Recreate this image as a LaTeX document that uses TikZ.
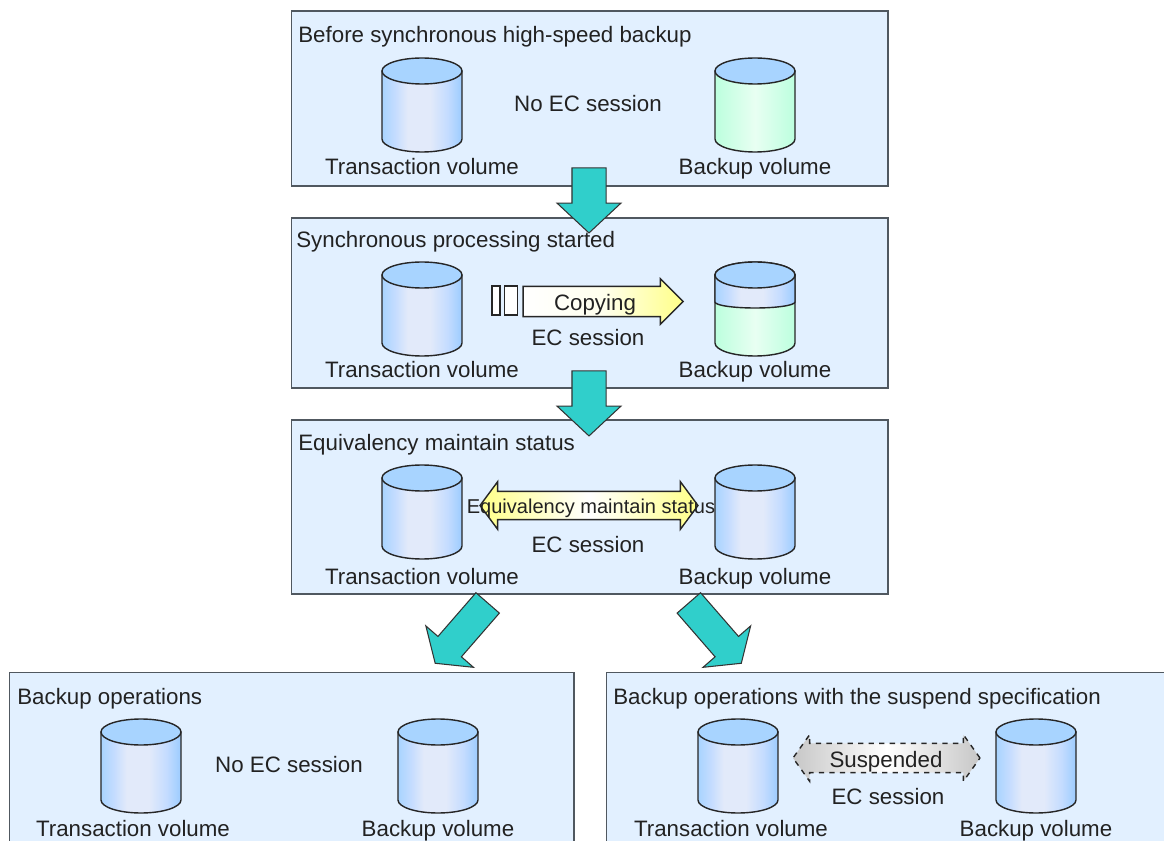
\documentclass[tikz,border=0pt]{standalone}
\usepackage{fontspec}
\setmainfont{Liberation Sans}
\usetikzlibrary{shapes.arrows}
\definecolor{panelblue}{HTML}{E2F0FF}
\definecolor{panelline}{HTML}{505860}
\definecolor{teal}{HTML}{30CFCB}
\definecolor{inktext}{HTML}{222222}
\definecolor{volcap}{HTML}{A8D4FF}
\definecolor{volside}{HTML}{C4DCFF}
\definecolor{volmid}{HTML}{E2EAFA}
\definecolor{volright}{HTML}{9CCCFF}
\definecolor{greenside}{HTML}{BCFFDE}
\definecolor{greenmid}{HTML}{E8FFF2}
\definecolor{copyyellow}{HTML}{FFFF88}
\pgfdeclarehorizontalshading{volblue}{100bp}{color(0bp)=(volcap); color(25bp)=(volcap); color(33bp)=(volside); color(41bp)=(volmid); color(55bp)=(volmid); color(66bp)=(volside); color(75bp)=(volright); color(100bp)=(volright)}
\pgfdeclarehorizontalshading{volgreen}{100bp}{color(0bp)=(greenside); color(25bp)=(greenside); color(50bp)=(greenmid); color(75bp)=(greenside); color(100bp)=(greenside)}
\tikzset{
  panel/.style={draw=panelline,line width=0.9pt,fill=panelblue,anchor=north west,inner sep=0pt},
  lab/.style={text=inktext,font=\fontsize{12.7}{14}\selectfont,inner sep=0pt,text height=9.1pt,text depth=0pt},
  smalllab/.style={text=inktext,font=\fontsize{11.4}{13}\selectfont,inner sep=0pt,text height=8.2pt,text depth=0pt},
  title/.style={lab,anchor=west},
  volline/.style={draw=black!85,line width=0.8pt},
  bigarrow/.style={shape=single arrow,draw=black!80,line width=0.6pt,fill=teal,inner xsep=0pt,inner ysep=0.33cm,
    minimum width=1.24cm,minimum height=1.3cm,single arrow head extend=0.3cm,single arrow tip angle=94},
  slantarrow/.style={bigarrow,inner ysep=0.3cm,minimum height=1.6cm,single arrow head extend=0.32cm,single arrow tip angle=110},
  copyarrow/.style={shape=single arrow,draw=black!85,line width=0.8pt,inner xsep=0pt,inner ysep=0.29cm,
    minimum width=0.88cm,minimum height=3.2cm,single arrow head extend=0.15cm,single arrow tip angle=90,
    left color=white,right color=copyyellow,middle color=copyyellow!15!white},
  bothways/.style={shape=double arrow,draw=black!85,line width=0.8pt,inner xsep=0pt,inner ysep=0.27cm,
    minimum width=0.92cm,minimum height=4.36cm,double arrow head extend=0.19cm,double arrow tip angle=107,
    left color=copyyellow,right color=copyyellow,middle color=white},
  hold/.style={draw=black!85,line width=0.8pt,fill=white,inner sep=0pt,minimum height=0.58cm}
}
\newcommand{\volume}[3]{%
  \begin{scope}[shift={(#1,#2)}]
    \draw[volline,shading=#3] (-40,13) -- (-40,81) arc[start angle=180,end angle=360,x radius=0.8cm,y radius=0.26cm] -- (40,13) -- cycle;
    \draw[volline,fill=volcap] (0,13) ellipse[x radius=0.8cm,y radius=0.26cm];
  \end{scope}}
\begin{document}
\begin{tikzpicture}[x=0.02cm,y=-0.02cm]
\useasboundingbox (0,0) rectangle (1164,841);
\clip (0,0) rectangle (1164,841);
%% panels
\node[panel,minimum width=11.94cm,minimum height=3.5cm] (before) at (290.5,10.5) {};
\node[panel,minimum width=11.94cm,minimum height=3.4cm] (sync) at (290.5,217.5) {};
\node[panel,minimum width=11.94cm,minimum height=3.48cm] (equiv) at (290.5,419.5) {};
\node[panel,minimum width=11.3cm,minimum height=3.6cm] (backup) at (8.5,671.5) {};
\node[panel,minimum width=11.6cm,minimum height=3.6cm] (suspend) at (605.5,671.5) {};
%% first panel
\node[title] (beforetitle) at (298,35) {Before synchronous high-speed backup};
\volume{422}{58}{volblue}
\volume{755}{58}{volgreen}
\node[lab] (beforesession) at (588,104) {No EC session};
\node[lab] (beforetrans) at (422,167) {Transaction volume};
\node[lab] (beforeback) at (755,167) {Backup volume};
%% second panel
\node[title] (synctitle) at (296,240) {Synchronous processing started};
\volume{422}{262}{volblue}
\volume{755}{262}{volgreen}
\begin{scope}[shift={(755,262)}]
  \draw[volline,shading=volblue] (-40,13) -- (-40,40) arc[start angle=180,end angle=360,x radius=0.8cm,y radius=0.12cm] -- (40,13) -- cycle;
  \draw[volline,fill=volcap] (0,13) ellipse[x radius=0.8cm,y radius=0.26cm];
\end{scope}
\node[hold,minimum width=0.16cm] (holda) at (496,300.5) {};
\node[hold,minimum width=0.27cm] (holdb) at (511,300.5) {};
\node[copyarrow] (copying) at (595.5,301.5) {};
\node[lab] (copytext) at (595,303) {Copying};
\node[lab] (syncsession) at (588,338) {EC session};
\node[lab] (synctrans) at (422,370) {Transaction volume};
\node[lab] (syncback) at (755,370) {Backup volume};
%% third panel
\node[title] (equivtitle) at (298,443) {Equivalency maintain status};
\volume{422}{465}{volblue}
\volume{755}{465}{volblue}
\node[bothways] (equivarrow) at (589,505.5) {};
\node[smalllab] (equivtext) at (591,506) {Equivalency maintain status};
\node[lab] (equivsession) at (588,545) {EC session};
\node[lab] (equivtrans) at (422,577) {Transaction volume};
\node[lab] (equivback) at (755,577) {Backup volume};
%% fourth panel
\node[title] (backuptitle) at (17,697) {Backup operations};
\volume{141}{719}{volblue}
\volume{438}{719}{volblue}
\node[lab] (backupsession) at (289,765) {No EC session};
\node[lab] (backuptrans) at (133,829) {Transaction volume};
\node[lab] (backupback) at (438,829) {Backup volume};
%% fifth panel
\node[title] (suspendtitle) at (613,697) {Backup operations with the suspend specification};
\volume{738}{719}{volblue}
\volume{1036}{719}{volblue}
\node[bothways,dashed,inner ysep=0.28cm,minimum width=0.9cm,minimum height=3.74cm,double arrow head extend=0.17cm,double arrow tip angle=109,
  left color=black!22,right color=black!22,middle color=white] (suspendarrow) at (886.5,758) {};
\node[lab] (suspendtext) at (886,760) {Suspended};
\node[lab] (suspendsession) at (888,797) {EC session};
\node[lab] (suspendtrans) at (731,829) {Transaction volume};
\node[lab] (suspendback) at (1036,829) {Backup volume};
%% big arrows between the panels
\node[bigarrow,rotate=-90] (firstarrow) at (589,192.5) {};
\node[bigarrow,rotate=-90] (secondarrow) at (589,395.5) {};
\node[slantarrow,rotate=229] (leftarrow) at (465,629) {};
\node[slantarrow,rotate=311] (rightarrow) at (711.5,629) {};
\end{tikzpicture}
\end{document}
